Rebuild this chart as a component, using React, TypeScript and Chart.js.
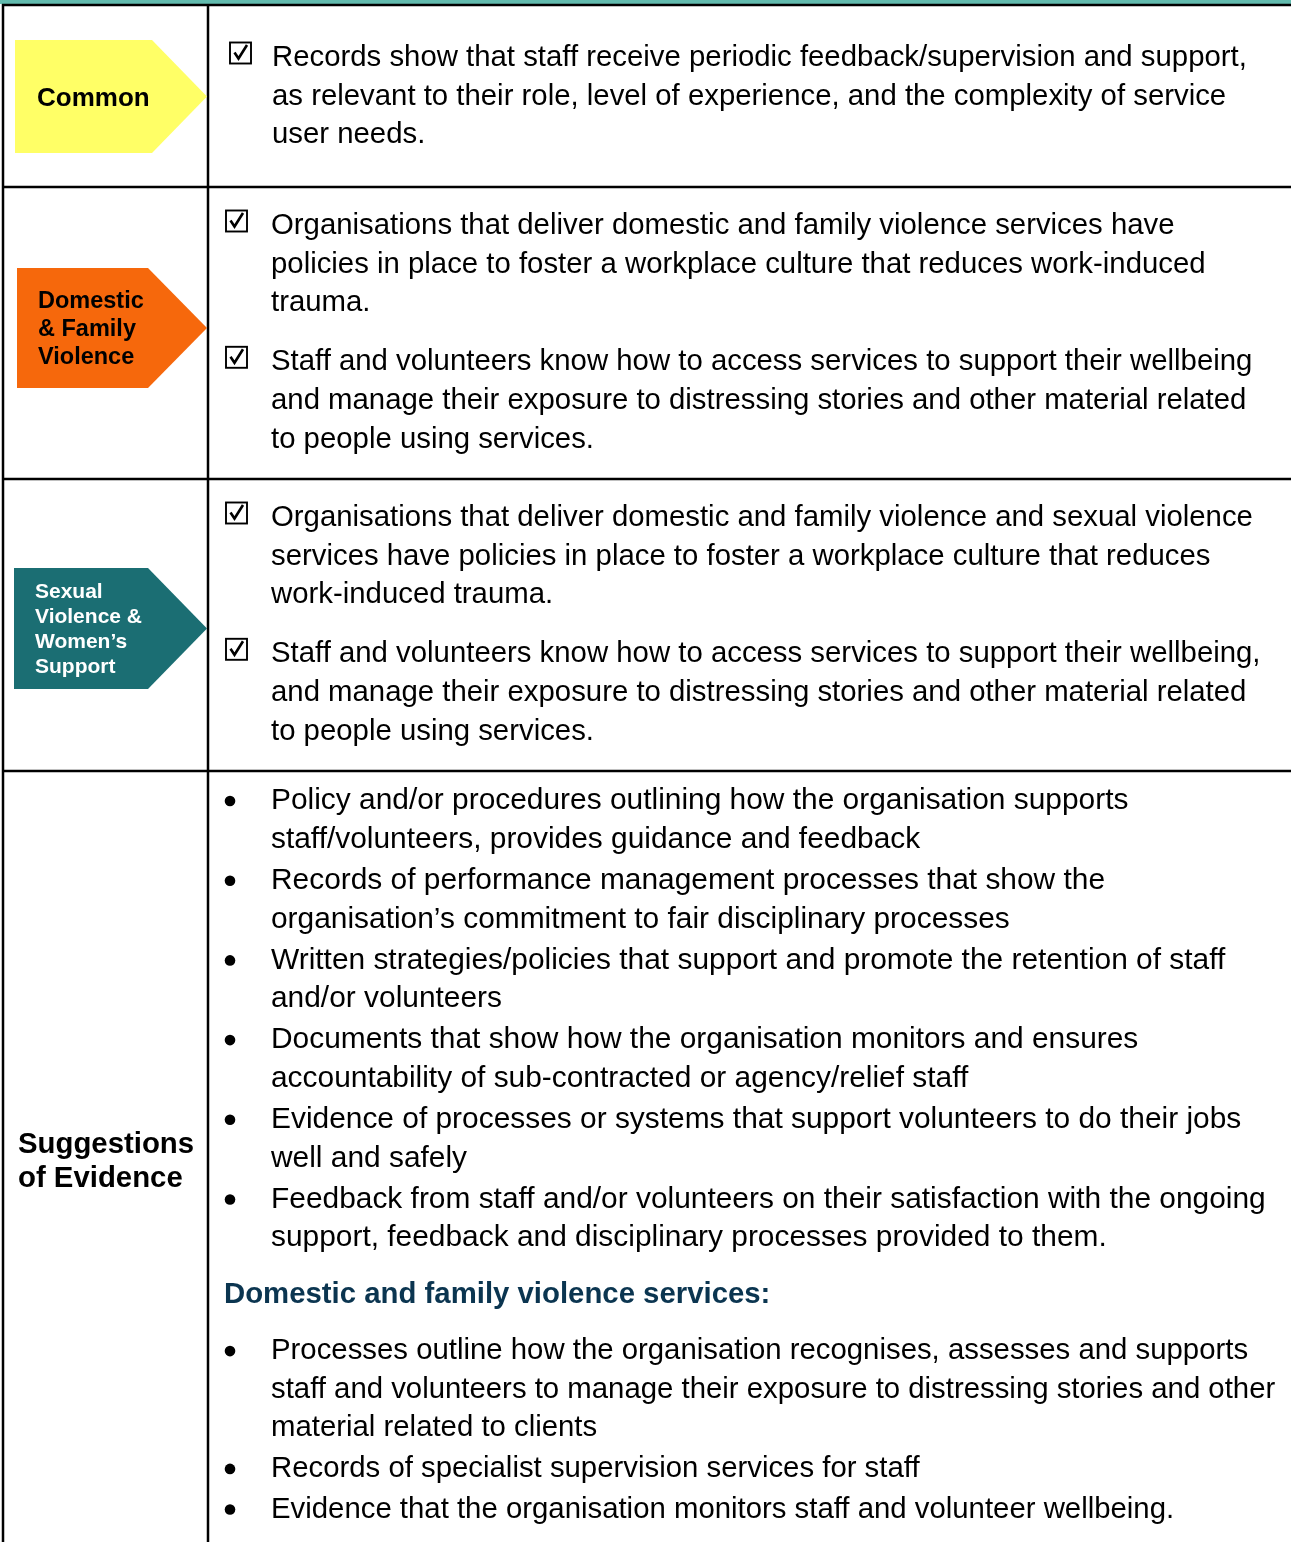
import React, { useEffect, useRef } from "react";
import { Chart, registerables } from "chart.js";

Chart.register(...registerables);

// ---- content ----
const ROW_LABELS: string[][] = [
  ["Common"],
  ["Domestic", "& Family", "Violence"],
  ["Sexual", "Violence &", "Women’s", "Support"],
  ["Suggestions", "of Evidence"],
];

const COMMON_STATEMENTS: string[][] = [
  [
    "Records show that staff receive periodic feedback/supervision and support,",
    "as relevant to their role, level of experience, and the complexity of service",
    "user needs.",
  ],
];

const DFV_STATEMENTS: string[][] = [
  [
    "Organisations that deliver domestic and family violence services have",
    "policies in place to foster a workplace culture that reduces work-induced",
    "trauma.",
  ],
  [
    "Staff and volunteers know how to access services to support their wellbeing",
    "and manage their exposure to distressing stories and other material related",
    "to people using services.",
  ],
];

const SV_STATEMENTS: string[][] = [
  [
    "Organisations that deliver domestic and family violence and sexual violence",
    "services have policies in place to foster a workplace culture that reduces",
    "work-induced trauma.",
  ],
  [
    "Staff and volunteers know how to access services to support their wellbeing,",
    "and manage their exposure to distressing stories and other material related",
    "to people using services.",
  ],
];

const EVIDENCE_GENERAL: string[][] = [
  ["Policy and/or procedures outlining how the organisation supports", "staff/volunteers, provides guidance and feedback"],
  ["Records of performance management processes that show the", "organisation’s commitment to fair disciplinary processes"],
  ["Written strategies/policies that support and promote the retention of staff", "and/or volunteers"],
  ["Documents that show how the organisation monitors and ensures", "accountability of sub-contracted or agency/relief staff"],
  ["Evidence of processes or systems that support volunteers to do their jobs", "well and safely"],
  ["Feedback from staff and/or volunteers on their satisfaction with the ongoing", "support, feedback and disciplinary processes provided to them."],
];

const EVIDENCE_HEADING = "Domestic and family violence services:";

const EVIDENCE_DFV: string[][] = [
  [
    "Processes outline how the organisation recognises, assesses and supports",
    "staff and volunteers to manage their exposure to distressing stories and other",
    "material related to clients",
  ],
  ["Records of specialist supervision services for staff"],
  ["Evidence that the organisation monitors staff and volunteer wellbeing."],
];

// ---- styles / layout ----
const W = 1291;
const H = 1542;
const FONT = "'Liberation Sans', Arial, sans-serif";
const BODY_SIZE = 29.35;
const EVIDENCE_SIZE = 29.9;
const LINE_H = 38.6;
const TEXT_SHIFT = 2;
const ROW_TOPS = [5, 187, 479, 771];
const DIVIDER_X = 208;
const LABEL_COLORS = ["#FFFF66", "#F6680C", "#1B6E73"];
const LABEL_TEXT = ["#000000", "#000000", "#FFFFFF"];

const tablePlugin = {
  id: "tablePlugin",
  afterDraw(chart: any) {
    const ctx: CanvasRenderingContext2D = chart.ctx;
    const xs = chart.scales.x;
    const ys = chart.scales.y;
    const X = (v: number) => xs.getPixelForValue(v);
    const Y = (v: number) => ys.getPixelForValue(v);

    ctx.save();
    ctx.fillStyle = "#ffffff";
    ctx.fillRect(0, 0, chart.width, chart.height);

    // top band
    ctx.fillStyle = "#62BBAE";
    ctx.fillRect(X(0), Y(0), X(W) - X(0), Y(4) - Y(0));

    // grid lines
    ctx.strokeStyle = "#000";
    ctx.lineWidth = 2.5;
    const hline = (y: number) => {
      ctx.beginPath();
      ctx.moveTo(X(2), Y(y));
      ctx.lineTo(X(W), Y(y));
      ctx.stroke();
    };
    ROW_TOPS.forEach((y) => hline(y));
    ctx.beginPath();
    ctx.moveTo(X(3), Y(4));
    ctx.lineTo(X(3), Y(H));
    ctx.stroke();
    ctx.beginPath();
    ctx.moveTo(X(DIVIDER_X), Y(4));
    ctx.lineTo(X(DIVIDER_X), Y(H));
    ctx.stroke();

    // arrow labels
    const arrows = [
      { x0: 15, x1: 152, y0: 40, y1: 153, tx: 37, size: 26, lh: 28, dy: 2 },
      { x0: 17, x1: 148, y0: 268, y1: 388, tx: 38, size: 23.5, lh: 28, dy: 2 },
      { x0: 14, x1: 148, y0: 568, y1: 689, tx: 35, size: 21, lh: 25, dy: 1 },
    ];
    arrows.forEach((a, i) => {
      ctx.fillStyle = LABEL_COLORS[i];
      const mid = (a.y0 + a.y1) / 2;
      ctx.beginPath();
      ctx.moveTo(X(a.x0), Y(a.y0));
      ctx.lineTo(X(a.x1), Y(a.y0));
      ctx.lineTo(X(207), Y(mid));
      ctx.lineTo(X(a.x1), Y(a.y1));
      ctx.lineTo(X(a.x0), Y(a.y1));
      ctx.closePath();
      ctx.fill();
      ctx.fillStyle = LABEL_TEXT[i];
      ctx.font = `bold ${a.size}px ${FONT}`;
      ctx.textBaseline = "middle";
      const lines = ROW_LABELS[i];
      const start = mid - ((lines.length - 1) * a.lh) / 2 + a.dy;
      lines.forEach((l, j) => ctx.fillText(l, X(a.tx), Y(start + j * a.lh)));
    });

    // Suggestions label
    ctx.fillStyle = "#000";
    ctx.font = `bold ${BODY_SIZE}px ${FONT}`;
    ctx.textBaseline = "middle";
    ROW_LABELS[3].forEach((l, j) => ctx.fillText(l, X(18), Y(1143 + TEXT_SHIFT + j * 34)));

    // checkbox
    const checkbox = (x: number, cy: number) => {
      const s = 21;
      const top = cy - s / 2 - 3;
      ctx.strokeStyle = "#000";
      ctx.lineWidth = 1.9;
      ctx.strokeRect(X(x), Y(top), s, s);
      ctx.lineWidth = 2.6;
      ctx.beginPath();
      ctx.moveTo(X(x + 4.5), Y(top + 10));
      ctx.lineTo(X(x + 8.5), Y(top + 16));
      ctx.lineTo(X(x + 17), Y(top + 2.5));
      ctx.stroke();
    };
    const bullet = (x: number, cy: number) => {
      ctx.fillStyle = "#000";
      ctx.beginPath();
      ctx.arc(X(x), Y(cy), 5.3, 0, Math.PI * 2);
      ctx.fill();
    };

    const drawParas = (
      paras: string[][],
      startY: number,
      gap: number,
      marker: (y: number) => void,
      tx: number,
      size: number = BODY_SIZE
    ) => {
      let y = startY;
      paras.forEach((p) => {
        marker(y);
        ctx.font = `${size}px ${FONT}`;
        ctx.fillStyle = "#000";
        ctx.textBaseline = "middle";
        p.forEach((l) => {
          ctx.fillText(l, X(tx), Y(y + TEXT_SHIFT));
          y += LINE_H;
        });
        y += gap;
      });
      return y - gap - LINE_H;
    };

    drawParas(COMMON_STATEMENTS, ROW_TOPS[0] + 51, 20.5, (y) => checkbox(230, y), 272);
    drawParas(DFV_STATEMENTS, ROW_TOPS[1] + 37, 20.5, (y) => checkbox(226, y), 271);
    drawParas(SV_STATEMENTS, ROW_TOPS[2] + 37, 20.5, (y) => checkbox(226, y), 271);
    const last = drawParas(
      EVIDENCE_GENERAL,
      ROW_TOPS[3] + 28,
      2.5,
      (y) => bullet(230, y + 2),
      271,
      EVIDENCE_SIZE
    );

    const headY = last + 58;
    ctx.font = `bold ${BODY_SIZE}px ${FONT}`;
    ctx.fillStyle = "#0B3550";
    ctx.textBaseline = "middle";
    ctx.fillText(EVIDENCE_HEADING, X(224), Y(headY + TEXT_SHIFT - 1));

    drawParas(EVIDENCE_DFV, headY + 55, 2, (y) => bullet(230, y + 2), 271);

    ctx.restore();
  },
};

export default function App() {
  const ref = useRef<HTMLCanvasElement | null>(null);
  useEffect(() => {
    document.body.style.margin = "0";
    if (!ref.current) return;
    const chart = new Chart(ref.current, {
      type: "scatter",
      data: { datasets: [] },
      options: {
        responsive: false,
        animation: false,
        layout: { padding: 0 },
        plugins: { legend: { display: false }, tooltip: { enabled: false } },
        scales: {
          x: { type: "linear", min: 0, max: W, display: false },
          y: { type: "linear", min: 0, max: H, reverse: true, display: false },
        },
      },
      plugins: [tablePlugin],
    });
    return () => chart.destroy();
  }, []);
  return (
    <div style={{ position: "absolute", left: 0, top: 0, width: W, height: H }}>
      <canvas ref={ref} width={W} height={H} style={{ width: W, height: H, display: "block" }} />
    </div>
  );
}
